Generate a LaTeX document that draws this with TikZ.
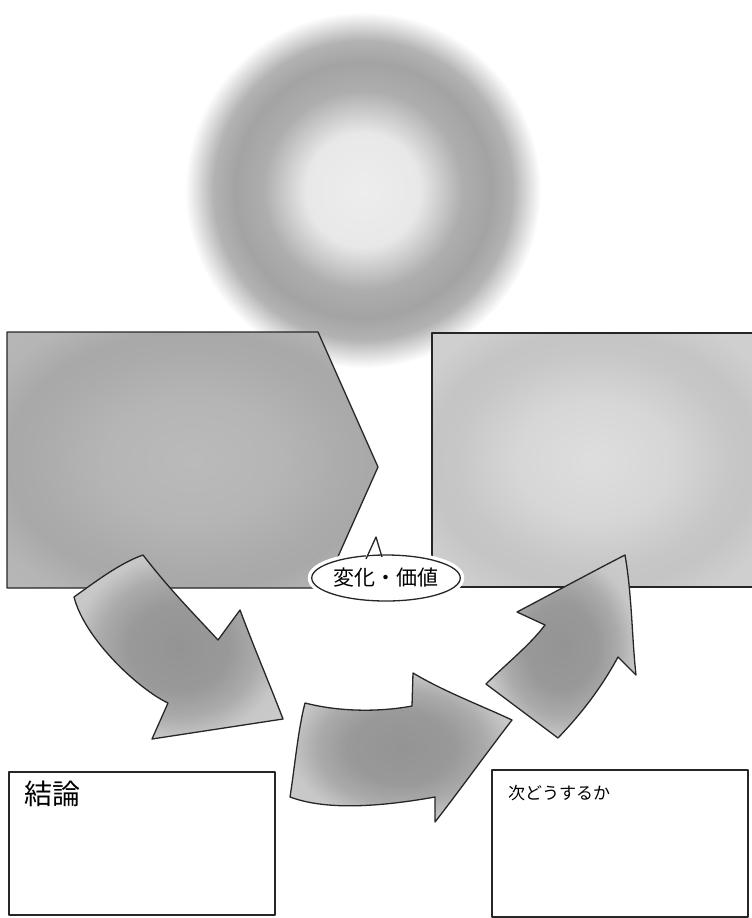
\documentclass[tikz,border=0pt]{standalone}
\usepackage{fontspec}
\newfontfamily\jpfont{Noto Sans CJK JP}
\usetikzlibrary{shapes.geometric, positioning}

% soft grey fills
\pgfdeclareradialshading{ringshade}{\pgfpointorigin}{gray(0bp)=(0.93); gray(8bp)=(0.91); gray(14bp)=(0.68); gray(18bp)=(0.64); gray(21bp)=(0.7); gray(25bp)=(1); gray(50bp)=(1)}
\pgfdeclareradialshading{leftshade}{\pgfpointorigin}{gray(0bp)=(0.73); gray(12bp)=(0.71); gray(21bp)=(0.67); gray(25bp)=(0.66); gray(31bp)=(0.71); gray(50bp)=(0.73)}
\pgfdeclareradialshading{rightshade}{\pgfpointorigin}{gray(0bp)=(0.87); gray(12bp)=(0.84); gray(21bp)=(0.78); gray(25bp)=(0.77); gray(31bp)=(0.81); gray(50bp)=(0.83)}
\pgfdeclareradialshading{arrowshade}{\pgfpointorigin}{gray(0bp)=(0.58); gray(12bp)=(0.6); gray(19bp)=(0.67); gray(25bp)=(0.78); gray(50bp)=(0.85)}

\begin{document}
\begin{tikzpicture}[
    x=1pt, y=-1pt,
    outline/.style={draw=black!85, line width=1.3pt, line join=round},
    panel/.style={outline, fill=white},
    fatarrow/.style={outline, shading=arrowshade},
    bubble/.style={ellipse, outline, fill=white, minimum width=122pt, minimum height=46pt, inner sep=0pt,
        preaction={draw=white, line width=8pt}, font=\jpfont\fontsize{21}{24}\selectfont},
    note/.style={anchor=north west, inner sep=0pt},
]
\useasboundingbox (0,0) rectangle (752,918);

% Blurred ring
\shade[shading=ringshade] (363,190) circle[radius=178pt];

% Top panels
\shade[outline, shading=leftshade] (7,332) -- (318,332) -- (378,467) -- (324,588) -- (7,588) -- cycle;
\shade[outline, shading=rightshade] (432,333) -- (756,333) -- (756,587) -- (432,587) -- cycle;

% Arrows
\shade[fatarrow] (74,597) .. controls (95,582) and (120,563) .. (143,555)
    .. controls (170,590) and (195,615) .. (218,640) -- (240,610)
    .. controls (255,650) and (270,685) .. (283,719) -- (152,739) -- (168,703)
    .. controls (140,690) and (85,640) .. (74,597) -- cycle;
\shade[fatarrow] (305,703) .. controls (340,712) and (380,712) .. (412,706) -- (413,673)
    .. controls (445,692) and (480,705) .. (512,720)
    .. controls (485,755) and (460,790) .. (435,822) -- (435,797)
    .. controls (390,805) and (330,812) .. (290,797)
    .. controls (295,765) and (298,730) .. (305,703) -- cycle;
\shade[fatarrow] (486,684) .. controls (505,665) and (530,645) .. (545,625) -- (517,612)
    .. controls (555,592) and (590,573) .. (625,555)
    .. controls (632,595) and (632,640) .. (636,675) -- (618,657)
    .. controls (600,690) and (580,715) .. (558,738) -- (486,684) -- cycle;

% Speech bubble
\coordinate (tailL) at (366,559);
\coordinate (tailT) at (376,537);
\coordinate (tailR) at (382,557);
\draw[white, line width=8pt, line join=round] (tailL) -- (tailT) -- (tailR);
\node[bubble] (bubble) at (386,578) {変化・価値};
\fill[white] ([yshift=4pt]tailL) -- (tailL) -- (tailT) -- (tailR) -- ([yshift=4pt]tailR) -- cycle;
\draw[outline] (tailL) -- (tailT) -- (tailR);

% Bottom panels
\draw[panel] (9,772) rectangle (275,915);
\draw[panel] (492,770) rectangle (748,917);
\node[note, font=\jpfont\fontsize{28}{30}\selectfont] (conclusion) at (24,781) {結論};
\node[note, font=\jpfont\fontsize{17}{20}\selectfont] (nextstep) at (508,785) {次どうするか};

\end{tikzpicture}
\end{document}
